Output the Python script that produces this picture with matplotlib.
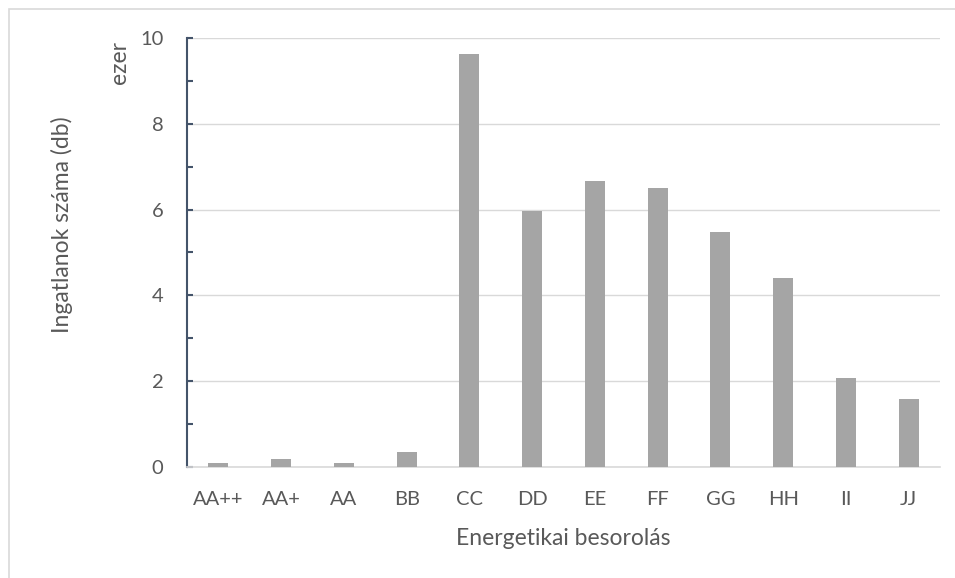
import matplotlib
matplotlib.use("Agg")
import matplotlib.pyplot as plt
from matplotlib.patches import Rectangle
from matplotlib.ticker import MultipleLocator

categories = ["AA++", "AA+", "AA", "BB", "CC", "DD", "EE", "FF", "GG", "HH", "II", "JJ"]
values = [0.09, 0.18, 0.10, 0.34, 9.63, 5.96, 6.67, 6.51, 5.48, 4.41, 2.07, 1.58]  # ezer db
y_ticks = [0, 2, 4, 6, 8, 10]

plt.rcParams["font.family"] = ["Lato", "DejaVu Sans"]
text_color = "#595959"
bar_color = "#A5A5A5"
axis_dark = "#44546A"
grid_color = "#D9D9D9"

W, H = 955, 578
fig = plt.figure(figsize=(W / 100, H / 100), dpi=100)
fig.patch.set_facecolor("white")

# outer chart frame
fig.add_artist(Rectangle((9 / W, -0.01), 1.0, 1 - 9 / H + 0.01, transform=fig.transFigure,
                         fill=False, edgecolor="#D9D9D9", linewidth=1.2))

left, right, top, bottom = 187, 940, 38, 467
ax = fig.add_axes([left / W, 1 - bottom / H, (right - left) / W, (bottom - top) / H])

x = range(len(categories))
ax.bar(x, values, width=0.32, color=bar_color, zorder=3)
ax.set_xlim(-0.5, len(categories) - 0.5)
ax.set_ylim(0, 10)

ax.set_yticks(y_ticks)
ax.set_yticklabels([str(t) for t in y_ticks])
ax.yaxis.set_minor_locator(MultipleLocator(1))
ax.set_xticks(list(x))
ax.set_xticklabels(categories)

ax.grid(axis="y", color=grid_color, linewidth=1.0, zorder=0)
for side in ("top", "right"):
    ax.spines[side].set_visible(False)
ax.spines["bottom"].set_color(grid_color)
ax.spines["bottom"].set_linewidth(1.2)
ax.spines["left"].set_color(axis_dark)
ax.spines["left"].set_linewidth(1.5)

ax.tick_params(axis="x", length=0, pad=17, labelsize=14.5, labelcolor=text_color)
ax.tick_params(axis="y", which="major", direction="in", length=4.5, width=1.5, color=axis_dark,
               pad=17, labelsize=14.5, labelcolor=text_color)
ax.tick_params(axis="y", which="minor", direction="in", length=4.5, width=1.5, color=axis_dark)

ax.set_xlabel("Energetikai besorolás", fontsize=16.5, color=text_color, labelpad=15)
fig.text(62 / W, 1 - 225 / H, "Ingatlanok száma (db)", rotation=90, ha="center", va="center",
         fontsize=16.5, color=text_color)
fig.text(119 / W, 1 - 62 / H, "ezer", rotation=90, ha="center", va="center",
         fontsize=16.5, color=text_color)

fig.savefig("out.png", dpi=100, facecolor="white")
